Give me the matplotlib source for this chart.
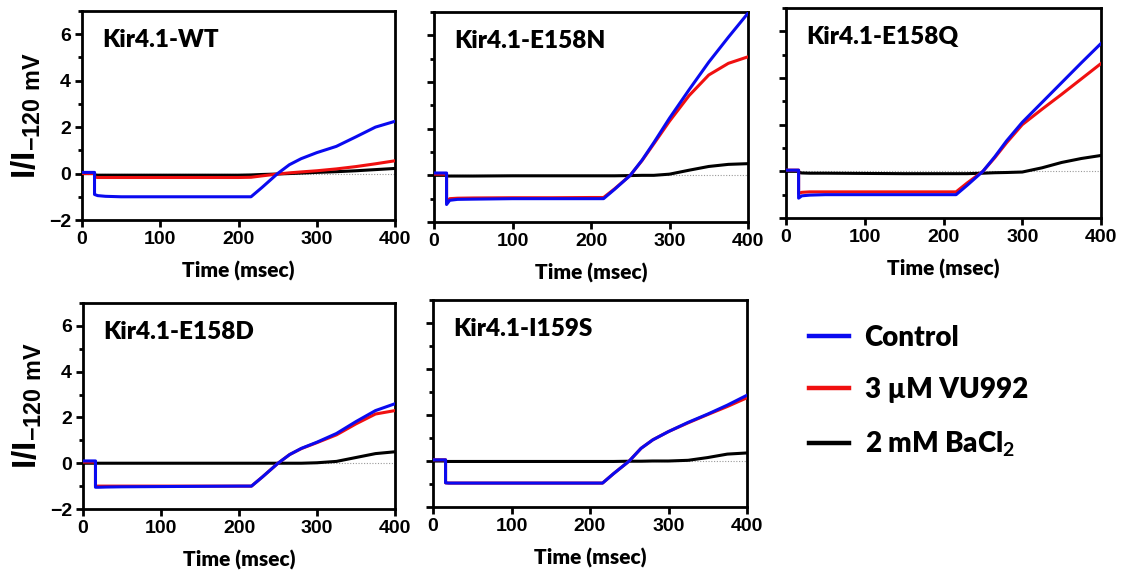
import matplotlib
matplotlib.use("Agg")
import matplotlib.pyplot as plt
from matplotlib.lines import Line2D

plt.rcParams['mathtext.fontset'] = 'custom'
plt.rcParams['mathtext.bf'] = 'Liberation Sans:bold'
plt.rcParams['mathtext.rm'] = 'Lato:bold'

# ---------------- data ----------------
time_ms = [0, 16, 16, 20, 30, 50, 100, 150, 200, 216, 230, 250, 265, 280, 300, 325, 350, 375, 400]

titles = ["Kir4.1-WT", "Kir4.1-E158N", "Kir4.1-E158Q", "Kir4.1-E158D", "Kir4.1-I159S"]

control = [
    [0.05, 0.05, -0.9, -0.95, -0.98, -1.0, -1.0, -1.0, -1.0, -1.0, -0.6, 0.0, 0.38, 0.64, 0.9, 1.17, 1.58, 2.0, 2.25],
    [0.1, 0.1, -1.25, -1.07, -1.03, -1.02, -1.0, -1.0, -1.0, -1.0, -0.6, 0.0, 0.65, 1.4, 2.45, 3.67, 4.85, 5.92, 6.95],
    [0.05, 0.05, -1.15, -1.05, -1.02, -1.0, -1.0, -1.0, -1.0, -1.0, -0.6, 0.0, 0.62, 1.3, 2.1, 2.95, 3.8, 4.65, 5.48],
    [0.1, 0.1, -1.05, -1.05, -1.04, -1.03, -1.02, -1.01, -1.0, -1.0, -0.6, 0.0, 0.38, 0.65, 0.92, 1.3, 1.82, 2.3, 2.6],
    [0.05, 0.05, -0.95, -0.96, -0.96, -0.96, -0.96, -0.96, -0.96, -0.96, -0.55, 0.0, 0.55, 0.92, 1.28, 1.68, 2.04, 2.43, 2.86],
]

vu992 = [
    [0.0, 0.0, -0.15, -0.17, -0.17, -0.17, -0.17, -0.17, -0.17, -0.16, -0.1, -0.02, 0.03, 0.07, 0.12, 0.2, 0.3, 0.42, 0.55],
    [0.05, 0.05, -1.15, -1.0, -0.98, -0.97, -0.96, -0.96, -0.95, -0.95, -0.58, 0.0, 0.63, 1.35, 2.32, 3.42, 4.3, 4.8, 5.08],
    [0.05, 0.05, -0.95, -0.9, -0.88, -0.88, -0.88, -0.88, -0.88, -0.88, -0.5, 0.0, 0.58, 1.22, 2.0, 2.66, 3.3, 3.96, 4.62],
    [0.05, 0.05, -1.0, -1.0, -1.0, -1.0, -1.0, -1.0, -1.0, -1.0, -0.6, 0.0, 0.38, 0.64, 0.9, 1.24, 1.72, 2.15, 2.3],
    [0.05, 0.05, -0.95, -0.96, -0.96, -0.96, -0.96, -0.96, -0.96, -0.96, -0.55, 0.0, 0.55, 0.92, 1.28, 1.66, 2.02, 2.37, 2.75],
]

bacl2 = [
    [0.0, 0.0, -0.06, -0.07, -0.07, -0.07, -0.07, -0.07, -0.07, -0.06, -0.04, -0.02, 0.0, 0.02, 0.05, 0.08, 0.12, 0.17, 0.22],
    [0.0, 0.0, -0.03, -0.03, -0.03, -0.03, -0.02, -0.02, -0.02, -0.02, -0.02, -0.01, 0.0, 0.0, 0.05, 0.22, 0.38, 0.47, 0.5],
    [0.0, 0.0, -0.05, -0.07, -0.08, -0.08, -0.09, -0.1, -0.1, -0.1, -0.1, -0.08, -0.06, -0.05, -0.03, 0.15, 0.38, 0.55, 0.68],
    [0.0, 0.0, 0.0, 0.0, 0.0, 0.0, 0.0, 0.0, 0.0, 0.0, 0.0, 0.0, 0.0, 0.0, 0.02, 0.08, 0.25, 0.42, 0.5],
    [0.0, 0.0, -0.02, -0.02, -0.02, -0.02, -0.02, -0.02, -0.02, -0.02, -0.02, -0.01, -0.01, 0.0, 0.0, 0.03, 0.15, 0.3, 0.35],
]

series_labels = ["Control", "3 \u00b5M VU992", "2 mM BaCl$_2$"]
series_colors = ["#0a0af0", "#f01010", "#000000"]

x_ticks = [0, 100, 200, 300, 400]
y_ticks = [-2, 0, 2, 4, 6]
y_minor = [-1, 1, 3, 5, 7]

# ---------------- layout (pixels) ----------------
W, H = 1122, 578
boxes = [  # left, right, top, bottom in pixels
    (82, 395, 11, 220),
    (434, 748, 12, 222),
    (786, 1101, 8, 218),
    (83, 395, 303, 509),
    (433, 747, 300, 507),
]

fig = plt.figure(figsize=(W / 100, H / 100), dpi=100)

for i, (l, r, t, b) in enumerate(boxes):
    ax = fig.add_axes([l / W, 1 - b / H, (r - l) / W, (b - t) / H])
    ax.axhline(0, color='#999999', lw=0.8, ls=(0, (1, 1.5)), zorder=1)
    ax.plot(time_ms, bacl2[i], color=series_colors[2], lw=2.2, zorder=2)
    ax.plot(time_ms, vu992[i], color=series_colors[1], lw=2.2, zorder=3)
    ax.plot(time_ms, control[i], color=series_colors[0], lw=2.2, zorder=4)
    ax.set_xlim(0, 400)
    ax.set_ylim(-2, 7)
    ax.set_xticks(x_ticks)
    ax.set_yticks(y_ticks)
    ax.set_yticks(y_minor, minor=True)
    for s in ax.spines.values():
        s.set_linewidth(2.0)
    ax.tick_params(axis='both', which='major', length=5, width=2.0, direction='out', pad=3)
    ax.tick_params(axis='y', which='minor', length=3, width=2.0, direction='out')
    for lab in ax.get_xticklabels() + ax.get_yticklabels():
        lab.set_family('Liberation Sans')
        lab.set_fontweight('bold')
        lab.set_fontsize(14)
    if i in (0, 3):
        ax.set_ylabel(r'$\mathbf{I/I_{-120\ mV}}$', fontsize=24, labelpad=4)
    else:
        ax.set_yticklabels([])
    ax.set_xlabel('Time (msec)', family='Lato', fontweight='heavy', fontsize=15, labelpad=9)
    ax.text(0.065, 0.86, titles[i], transform=ax.transAxes, family='Lato', fontweight='heavy',
            fontsize=17.5, ha='left', va='center')

handles = [Line2D([], [], color=c, lw=3.2) for c in series_colors]
fig.legend(handles, series_labels, loc='center left', bbox_to_anchor=(784 / W, 1 - 392 / H),
           frameon=False, handlelength=1.45, handletextpad=0.55, labelspacing=0.95,
           prop={'family': 'Lato', 'weight': 'heavy', 'size': 20})

fig.savefig('out.png', dpi=100)
